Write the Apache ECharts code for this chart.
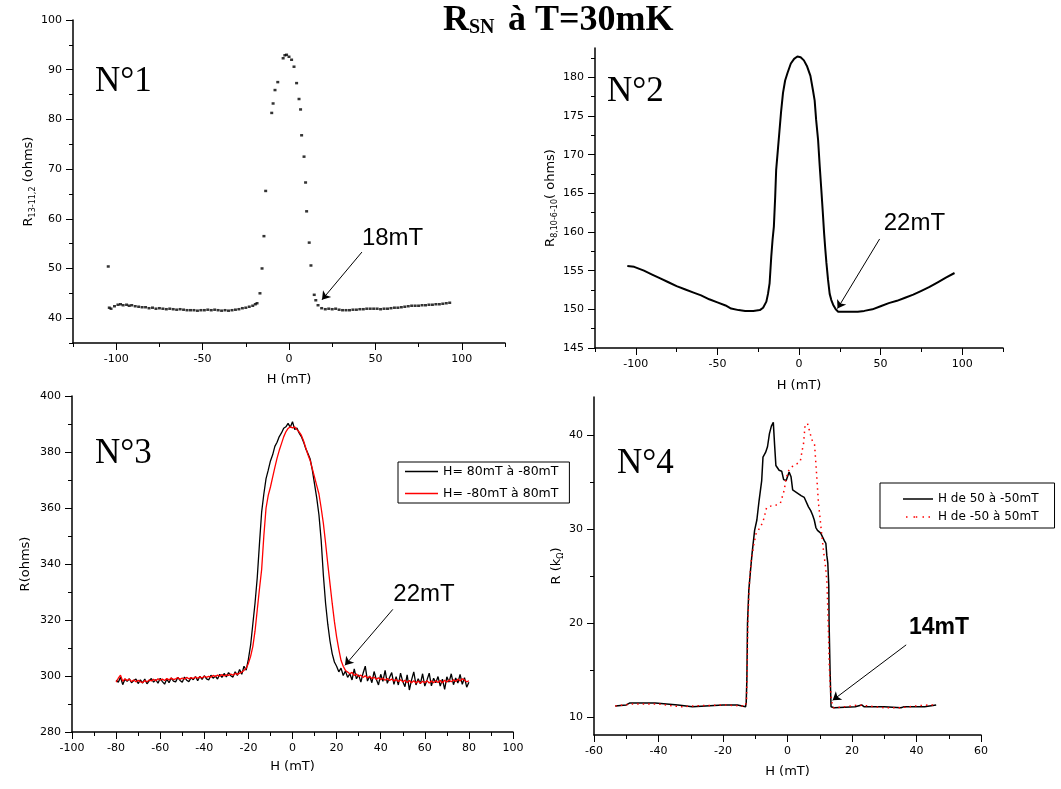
<!DOCTYPE html>
<html><head><meta charset="utf-8">
<script src="https://cdn.jsdelivr.net/npm/echarts@6/dist/echarts.min.js"></script>
<style>html,body{margin:0;padding:0;background:#fff}#c{width:1061px;height:789px}</style>
</head><body><div id="c"></div>
<script>
// ================= DATA =================
// Panel N°1 : R13-11,2 (ohms) vs H (mT) – measured points
const p1Points = [
 [-104.6,50.4],
 [-104,42.1],[-103,41.9],[-101,42.4],[-99,42.7],[-97.5,42.8],[-96,42.6],[-94,42.7],[-92.5,42.5],[-91,42.6],[-89,42.4],
 [-87,42.3],[-85,42.2],[-83,42.2],[-81,42.0],[-79,42.1],[-77,41.9],[-75,42.0],[-73,41.9],[-71,41.8],[-69,41.9],
 [-67,41.8],[-65,41.7],[-63,41.8],[-61,41.7],[-59,41.6],[-57,41.6],[-55,41.6],[-53,41.5],[-51,41.6],[-49,41.6],
 [-47,41.7],[-45,41.6],[-43,41.7],[-41,41.6],[-39,41.5],[-37,41.6],[-35,41.5],[-33,41.6],[-31,41.7],[-29,41.8],
 [-27,42.0],[-25,42.1],[-23,42.3],[-21,42.5],[-19.5,42.8],[-18.5,43.0],
 [-16.8,45.0],[-15.6,50.0],[-14.5,56.5],[-13.5,65.6],[-10,81.3],[-9.2,83.2],[-8.1,85.9],[-6.5,87.5],
 [-3.4,92.3],[-2.4,92.9],[-1.4,93.0],[0,92.6],[1.5,92.0],[2.9,90.6],[4.4,87.3],[5.8,84.1],[6.7,82.0],
 [7.3,76.8],[8.7,72.5],[9.6,67.3],[10.2,61.5],[11.7,55.2],[12.7,50.6],[14.6,44.7],[15.5,43.6],[16.8,42.6],[18.9,42.0],
 [21,41.8],[23,41.9],[25,41.8],[27,41.9],[29,41.7],[31,41.6],[33,41.6],[35,41.6],[37,41.7],[39,41.7],
 [41,41.8],[43,41.8],[45,41.9],[47,41.9],[49,41.9],[51,41.9],[53,41.8],[55,41.9],[57,41.9],[59,42.0],
 [61,42.1],[63,42.1],[65,42.2],[67,42.3],[69,42.4],[71,42.5],[73,42.5],[75,42.5],[77,42.6],[79,42.6],
 [81,42.7],[83,42.7],[85,42.8],[87,42.8],[89,42.9],[91,43.0],[93,43.1]
];
// Panel N°2 : R8,10-6-10 (ohms) vs H (mT)
const p2Curve = [
 [-105.2,155.6],[-101,155.5],[-95,155.0],[-90,154.5],[-85,154.0],[-80,153.5],[-75,153.0],[-70,152.6],[-65,152.2],
 [-60,151.8],[-55,151.3],[-50,150.9],[-45,150.5],[-41.6,150.1],[-37,149.9],[-33,149.8],[-28,149.8],[-24,149.9],
 [-22,150.2],[-20,151.0],[-19,152.0],[-18,153.4],[-17,156.8],[-16.2,159.0],[-15.4,160.7],[-14.6,164.5],[-14,168.0],
 [-13,170.5],[-12,173.0],[-11,175.5],[-9.8,178.0],[-8.5,179.6],[-7,180.6],[-5,181.8],[-3,182.4],[-1,182.7],
 [1,182.6],[3,182.2],[5,181.4],[7,180.2],[8.5,178.4],[9.6,177.0],[10.5,174.5],[11.7,171.9],[12.7,168.5],
 [13.7,165.4],[14.6,162.5],[15.4,159.8],[16.1,157.8],[16.8,156.0],[17.8,153.8],[18.8,152.0],[19.8,151.2],
 [20.9,150.6],[22.5,150.0],[24,149.7],[28,149.7],[32,149.7],[36,149.7],[40,149.8],[45,150.0],[50,150.4],
 [55,150.8],[60,151.1],[65,151.5],[70,151.9],[75,152.4],[80,152.9],[85,153.5],[90,154.1],[95.3,154.7]
];
// Panel N°3 : R(ohms) vs H (mT)
const p3H = [-80,-79,-78,-77,-76,-75,-74,-73,-72,-71,-70,-69,-68,-67,-66,-65,-64,-63,-62,-61,
 -60,-59,-58,-57,-56,-55,-54,-53,-52,-51,-50,-49,-48,-47,-46,-45,-44,-43,-42,-41,
 -40,-39,-38,-37,-36,-35,-34,-33,-32,-31,-30,-29,-28,-27,-26,-25,-24,-23,-22,-21,
 -20,-19,-18,-17,-16,-15,-14,-13,-12,-11,-10,-9,-8,-7,-6,-5,-4,-3,-2,-1,
 0,1,2,3,4,5,6,7,8,9,10,11,12,13,14,15,16,17,18,19,
 20,21,22,23,24,25,26,27,28,29,30,31,32,33,34,35,36,37,38,39,
 40,41,42,43,44,45,46,47,48,49,50,51,52,53,54,55,56,57,58,59,
 60,61,62,63,64,65,66,67,68,69,70,71,72,73,74,75,76,77,78,79,80];
const p3Black = [298.5,297.8,299.6,296.9,298.8,298.1,299.0,297.6,298.4,298.9,297.3,298.6,297.5,298.9,297.2,298.3,299.1,297.8,298.7,297.4,
 299.2,298.0,297.1,298.9,297.6,299.3,298.2,297.9,299.5,298.4,297.8,299.6,298.5,298.0,299.4,298.7,299.8,298.3,299.9,298.8,
 300.1,299.0,298.6,300.3,299.2,300.0,298.9,300.6,299.5,300.9,299.7,301.2,300.1,299.6,301.5,300.2,302.3,300.6,303.5,302.1,
 306.0,311.0,318.5,326.0,335.0,347.0,358.5,365.0,370.5,373.5,376.8,379.0,382.0,383.5,385.5,386.8,388.5,389.0,390.2,388.8,
 390.8,388.0,388.6,386.8,385.5,383.6,381.2,379.5,377.5,373.5,368.5,363.5,357.5,348.5,336.0,326.0,318.5,312.5,308.0,305.0,
 303.5,301.5,302.8,300.2,301.8,299.5,300.8,298.6,302.5,299.0,300.4,297.8,301.0,303.5,298.2,300.0,297.6,301.6,298.8,296.8,
 300.6,298.1,302.0,297.4,299.5,301.2,297.0,299.8,296.8,301.0,298.0,296.2,300.4,295.0,298.6,301.5,296.8,299.0,297.2,300.8,
 296.4,298.6,301.0,296.5,299.2,297.6,299.8,296.4,298.9,295.2,299.7,297.8,300.8,296.9,299.3,297.5,300.6,297.0,299.4,296.0,297.8];
const p3Red = [297.8,299.2,300.3,298.1,299.0,298.4,298.9,298.0,298.6,297.9,298.5,298.0,297.6,298.4,297.9,298.6,298.2,298.8,298.3,299.0,
 298.5,298.9,298.4,299.1,298.6,299.3,298.7,299.0,299.4,298.8,299.3,298.9,299.5,299.0,299.4,299.1,299.6,299.2,299.7,299.3,
 299.9,299.5,299.9,299.6,300.2,299.8,300.3,299.9,300.5,300.0,300.4,300.2,300.7,300.3,300.9,300.6,301.0,301.4,302.0,302.8,
 304.5,307.0,310.5,316.0,323.5,331.0,338.0,350.0,360.0,364.5,367.5,371.0,374.5,377.8,380.6,383.0,385.4,387.2,388.4,389.0,
 388.6,389.0,388.0,387.2,386.0,384.0,381.5,379.0,377.0,374.0,371.0,368.0,365.0,360.0,354.5,347.5,340.0,333.0,326.0,319.5,
 314.0,309.5,305.6,303.5,302.0,301.4,300.8,301.3,300.2,300.7,299.8,300.3,299.5,300.1,299.3,299.8,299.0,299.6,298.8,299.4,
 298.7,299.2,298.5,299.1,298.4,298.9,298.2,298.8,298.0,298.7,297.9,298.5,297.7,298.4,297.6,298.3,297.5,298.2,297.4,298.1,
 297.6,298.3,297.5,298.2,297.6,298.3,297.7,298.4,297.6,298.5,297.8,298.6,297.9,298.7,298.0,298.9,298.2,299.0,298.6,297.9,298.3];
// Panel N°4 : R (kΩ) vs H (mT)
const p4Black = [
 [-53.4,11.2],[-50,11.3],[-49,11.5],[-45,11.5],[-41,11.5],[-40.5,11.4],[-34,11.3],[-33.5,11.1],[-29.5,11.1],[-29,11.3],
 [-20,11.3],[-15.5,11.3],[-15,11.1],[-13,11.1],[-12.8,11.6],[-12.6,14],[-12.4,20.0],[-12.0,23.5],[-11.5,25.5],[-11.0,27.4],
 [-10.2,29.9],[-9.5,31.0],[-8.8,33.1],[-8,35.2],[-7.6,37.7],[-6.8,38.2],[-6.2,38.8],[-5.6,40.2],[-5.0,41.0],[-4.4,41.4],
 [-4.0,39.0],[-3.6,36.8],[-2.6,36.3],[-1.8,36.2],[-1.2,35.3],[-0.4,35.2],[0.5,36.1],[1.1,35.6],[1.6,34.2],[2.5,34.0],
 [3.1,34.0],[4.2,33.6],[5.2,33.4],[6.5,32.4],[7.2,32.0],[7.8,31.5],[8.3,31.0],[8.8,30.2],[9.3,29.9],[10.3,29.6],
 [10.9,29.5],[11.4,28.8],[11.9,28.5],[12.2,27.2],[12.5,26.4],[12.8,24],[12.9,20.0],[13.2,15],[13.5,11.1],[14.5,11.0],
 [21,11.1],[21.5,11.3],[23,11.3],[23.8,11.1],[30,11.1],[30.3,11.0],[35.2,11.0],[36,11.1],[42.5,11.1],[43,11.3],[46.1,11.3]
];
const p4Red = [
 [-53.4,11.2],[-48,11.4],[-40,11.4],[-33,11.1],[-29,11.2],[-20,11.3],[-14,11.2],[-13,11.2],[-12.7,12],[-12.5,15],
 [-12.4,18],[-12.2,21],[-11.8,24.3],[-11.3,26.5],[-10.4,28.5],[-9.7,29.6],[-8.5,30.2],[-7.6,30.8],[-6.5,32.3],[-5,32.5],
 [-3.5,32.6],[-2.2,32.8],[-1.5,33.6],[-1,34.2],[-0.5,35.3],[0.2,36.2],[1.5,36.7],[3,37.0],[4,37.3],[4.6,38.5],
 [5,39.2],[5.4,40.9],[6.2,41.3],[7.5,39.6],[8.4,39.0],[8.8,37.0],[9.0,36.0],[9.3,34.4],[9.6,32.8],[10.0,31.5],
 [10.6,29.5],[11.2,27.6],[11.8,26.0],[12.2,24.5],[12.5,21.5],[12.7,19],[12.9,16],[13.2,13.5],[13.6,11.8],[14.2,11.0],
 [15,11.0],[20,11.2],[22,11.3],[25,11.2],[30,11.0],[35,11.0],[40,11.2],[44,11.3],[46,11.3]
];
// Tick values (labels) and minor ticks
const p1XTicks = [-100,-50,0,50,100];
const p1XMinor = [-125,-75,-25,25,75,125];
const p1YTicks = [40,50,60,70,80,90,100];
const p1YMinor = [35,45,55,65,75,85,95];
const p2XTicks = [-100,-50,0,50,100];
const p2XMinor = [-125,-75,-25,25,75,125];
const p2YTicks = [145,150,155,160,165,170,175,180];
const p2YMinor = [147.5,152.5,157.5,162.5,167.5,172.5,177.5,182.5];
const p3XTicks = [-100,-80,-60,-40,-20,0,20,40,60,80,100];
const p3XMinor = [-90,-70,-50,-30,-10,10,30,50,70,90];
const p3YTicks = [280,300,320,340,360,380,400];
const p3YMinor = [290,310,330,350,370,390];
const p4XTicks = [-60,-40,-20,0,20,40,60];
const p4XMinor = [-50,-30,-10,10,30,50];
const p4YTicks = [10,20,30,40];
const p4YMinor = [15,25,35];
// Series names / annotations
const p3Names = ['H= 80mT à -80mT','H= -80mT à 80mT'];
const p4Names = ['H de 50 à -50mT','H de -50 à 50mT'];
const notes = [
  {text:'18mT', at:[41.9,56.1], from:[42.2,53.3], to:[19.1,43.7]},
  {text:'22mT', at:[51.6,161.1], from:[49.4,159.1], to:[23.6,150.1]},
  {text:'22mT', at:[45.5,329.2], from:[45.5,323.8], to:[23.8,303.8]},
  {text:'14mT', at:[37.5,19.5], from:[36.8,17.7], to:[14.0,11.8]}
];

// ================= CHART =================
const chart = echarts.init(document.getElementById('c'), null, {renderer:'canvas'});
const BLACK = '#000';
const RED = '#ff0000';
const grids = [
  {left:73, top:20, width:432, height:323},
  {left:595, top:48, width:408, height:300},
  {left:72, top:396, width:441, height:336},
  {left:594, top:397, width:387, height:338}
];
const nameStyle = {color:BLACK, fontSize:13, fontFamily:'DejaVu Sans',
  rich:{n:{fontSize:13, fontFamily:'DejaVu Sans', color:BLACK}, s:{fontSize:8, fontFamily:'DejaVu Sans', color:BLACK, padding:[8,0,0,0]}}};
const specs = [
  {x:{min:-125,max:125,major:p1XTicks,minor:p1XMinor,name:'H (mT)',gap:30},
   y:{min:35,max:100,major:p1YTicks,minor:p1YMinor,name:'{n|R}{s|13-11,2}{n| (ohms)}',gap:33}},
  {x:{min:-125,max:125,major:p2XTicks,minor:p2XMinor,name:'H (mT)',gap:31},
   y:{min:145,max:183.8,major:p2YTicks,minor:p2YMinor,name:'{n|R}{s|8,10-6-10}{n|( ohms)}',gap:36}},
  {x:{min:-100,max:100,major:p3XTicks,minor:p3XMinor,name:'H (mT)',gap:28},
   y:{min:280,max:400,major:p3YTicks,minor:p3YMinor,name:'R(ohms)',gap:40}},
  {x:{min:-60,max:60,major:p4XTicks,minor:p4XMinor,name:'H (mT)',gap:30},
   y:{min:8.1,max:44.1,major:p4YTicks,minor:p4YMinor,name:'{n|R (k}{s|Ω}{n|)}',gap:16}}
];
function axes(dim, g, s) {
  const pos = dim === 'x' ? 'bottom' : 'left';
  const major = {type:'value', gridIndex:g, min:s.min, max:s.max, position:pos,
    splitLine:{show:false},
    axisLine:{show:true, onZero:false, lineStyle:{color:BLACK, width:1.5}},
    axisTick:{show:true, length:7, customValues:s.major, lineStyle:{color:BLACK, width:1}},
    axisLabel:{show:true, customValues:s.major, margin:11, color:BLACK, fontSize:11, fontFamily:'DejaVu Sans'},
    name:s.name, nameLocation:'middle', nameGap:s.gap, nameTextStyle:nameStyle};
  const minor = {type:'value', gridIndex:g, min:s.min, max:s.max, position:pos,
    splitLine:{show:false},
    axisLine:{show:false, onZero:false},
    axisTick:{show:true, length:4, customValues:s.minor, lineStyle:{color:BLACK, width:1}},
    axisLabel:{show:false}};
  return [major, minor];
}
const xAxis = [], yAxis = [];
specs.forEach((s, g) => { xAxis.push(...axes('x', g, s.x)); yAxis.push(...axes('y', g, s.y)); });

function annot(i, bold) {
  const n = notes[i];
  return {
    markLine:{silent:true, animation:false, symbol:['none','arrow'], symbolSize:8,
      lineStyle:{color:BLACK, width:1, type:'solid'}, label:{show:false}, emphasis:{disabled:true},
      data:[[{coord:n.from},{coord:n.to}]]},
    markPoint:{silent:true, animation:false, symbol:'circle', symbolSize:1, itemStyle:{color:'rgba(0,0,0,0)'},
      label:{show:true, position:'right', distance:0, formatter:n.text, color:BLACK,
        fontSize:bold?23:24, fontWeight:bold?'bold':'normal', fontFamily:'Liberation Sans'},
      data:[{coord:n.at}]}
  };
}
const zip = (xs, ys) => xs.map((x, i) => [x, ys[i]]);
const series = [
  Object.assign({type:'scatter', xAxisIndex:0, yAxisIndex:0, data:p1Points, symbol:'rect', symbolSize:[3,2.5],
    itemStyle:{color:BLACK}, silent:true}, annot(0)),
  Object.assign({type:'line', xAxisIndex:2, yAxisIndex:2, data:p2Curve, symbol:'none',
    lineStyle:{color:BLACK, width:2}, itemStyle:{color:BLACK}, silent:true}, annot(1)),
  {type:'line', name:p3Names[0], xAxisIndex:4, yAxisIndex:4, data:zip(p3H, p3Black), symbol:'none',
    lineStyle:{color:BLACK, width:1.3}, itemStyle:{color:BLACK}, silent:true},
  Object.assign({type:'line', name:p3Names[1], xAxisIndex:4, yAxisIndex:4, data:zip(p3H, p3Red), symbol:'none',
    lineStyle:{color:RED, width:1.3}, itemStyle:{color:RED}, silent:true, z:3}, annot(2)),
  Object.assign({type:'line', name:p4Names[0], xAxisIndex:6, yAxisIndex:6, data:p4Black, symbol:'none',
    lineStyle:{color:BLACK, width:1.5}, itemStyle:{color:BLACK}, silent:true}, annot(3, true)),
  {type:'line', name:p4Names[1], xAxisIndex:6, yAxisIndex:6, data:p4Red, symbol:'none',
    lineStyle:{color:RED, width:1.5, type:[1.5,4]}, itemStyle:{color:RED}, silent:true, z:3}
];
const dots = 'path://M0,0h2v2h-2z M10,0h2v2h-2z M13,0h2v2h-2z M22,0h2v2h-2z M30,0h2v2h-2z';
const legend = [
  {data:p3Names.map(n => ({name:n, icon:'rect'})), orient:'vertical', left:398, top:462,
   itemWidth:33, itemHeight:1.5, itemGap:9, padding:[3,11,3,7], borderColor:BLACK, borderWidth:1,
   backgroundColor:'#fff', selectedMode:false, textStyle:{fontFamily:'DejaVu Sans', fontSize:12.5, color:BLACK}},
  {data:[{name:p4Names[0], icon:'rect'}, {name:p4Names[1], icon:dots}], orient:'vertical', left:880, top:483,
   itemWidth:30, itemHeight:1.5, itemGap:6, padding:[10,16,5,23], borderColor:BLACK, borderWidth:1,
   backgroundColor:'#fff', selectedMode:false, textStyle:{fontFamily:'DejaVu Sans', fontSize:12, color:BLACK}}
];
const serif = 'Liberation Serif';
const graphic = [
  {type:'text', left:443, top:3, style:{text:'R', fontSize:36, fontWeight:'bold', fontFamily:serif, fill:BLACK}},
  {type:'text', left:469, top:18, style:{text:'SN', fontSize:20, fontWeight:'bold', fontFamily:serif, fill:BLACK}},
  {type:'text', left:508, top:3, style:{text:'à T=30mK', fontSize:36, fontWeight:'bold', fontFamily:serif, fill:BLACK}},
  {type:'text', left:95, top:64, style:{text:'N°1', fontSize:35, fontFamily:serif, fill:BLACK}},
  {type:'text', left:607, top:74, style:{text:'N°2', fontSize:35, fontFamily:serif, fill:BLACK}},
  {type:'text', left:95, top:436, style:{text:'N°3', fontSize:35, fontFamily:serif, fill:BLACK}},
  {type:'text', left:617, top:446, style:{text:'N°4', fontSize:35, fontFamily:serif, fill:BLACK}}
];
chart.setOption({
  animation:false,
  backgroundColor:'#fff',
  grid:grids.map(g => Object.assign({containLabel:false, outerBoundsMode:'none'}, g)),
  xAxis, yAxis, series, legend, graphic
});
</script></body></html>
